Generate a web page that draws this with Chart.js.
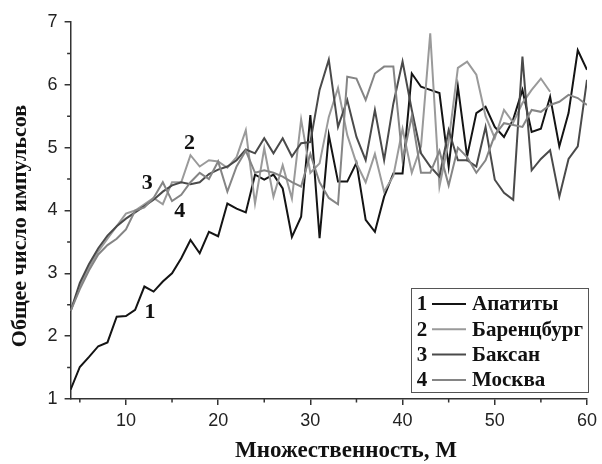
<!DOCTYPE html>
<html>
<head>
<meta charset="utf-8">
<script src="https://cdn.jsdelivr.net/npm/chart.js@4.4.0/dist/chart.umd.min.js"></script>
<style>
  html, body { margin: 0; padding: 0; background: #fff; }
  #wrap { width: 602px; height: 464px; }
</style>
</head>
<body>
<div id="wrap"><canvas id="chart" width="602" height="464"></canvas></div>
<script>
// multiplicity M
const multiplicity = [];
for (let m = 4; m <= 60; m++) multiplicity.push(m);

const stationNames = ['Апатиты', 'Баренцбург', 'Баксан', 'Москва'];
const xTickLabels = [10, 20, 30, 40, 50, 60];
const yTickLabels = [1, 2, 3, 4, 5, 6, 7];

// values, M = 4..60
const apatity = [1.15, 1.51, 1.67, 1.84, 1.90, 2.31, 2.32, 2.42, 2.79, 2.71,
  2.87, 3.00, 3.24, 3.53, 3.32, 3.66, 3.59, 4.11, 4.03, 3.97,
  4.57, 4.49, 4.57, 4.35, 3.58, 3.90, 5.52, 3.56, 5.20, 4.46,
  4.46, 4.76, 3.85, 3.66, 4.22, 4.59, 4.59, 6.18, 5.97, 5.92,
  5.87, 4.70, 5.97, 4.86, 5.55, 5.65, 5.33, 5.17, 5.45, 5.92,
  5.25, 5.30, 5.81, 5.02, 5.55, 6.55, 6.24];

const barentsburg = [2.40, 2.80, 3.10, 3.35, 3.55, 3.75, 3.95, 4.00, 4.10, 4.20,
  4.10, 4.45, 4.45, 4.88, 4.70, 4.80, 4.78, 4.68, 4.85, 5.28,
  4.11, 4.99, 4.22, 4.72, 4.19, 5.45, 4.60, 4.75, 5.49, 5.95,
  5.20, 4.75, 4.45, 4.90, 4.30, 4.55, 5.30, 4.60, 5.02, 6.82,
  4.38, 5.10, 6.27, 6.37, 6.16, 5.50, 5.15, 5.60, 5.40, 5.71,
  5.92, 6.10, 5.89, null, null, null, null];

const baksan = [2.40, 2.85, 3.15, 3.40, 3.60, 3.75, 3.87, 3.97, 4.07, 4.17,
  4.30, 4.40, 4.45, 4.42, 4.45, 4.58, 4.65, 4.70, 4.80, 4.97,
  4.91, 5.15, 4.91, 5.15, 4.86, 5.07, 5.09, 5.92, 6.40, 5.33,
  5.76, 5.17, 4.80, 5.60, 4.80, 5.70, 6.37, 5.60, 4.91, 4.70,
  4.54, 5.28, 4.80, 4.80, 4.70, 5.33, 4.49, 4.28, 4.17, 6.45,
  4.64, 4.82, 4.96, 4.22, 4.82, 5.02, 6.08];

const moscow = [2.40, 2.75, 3.05, 3.30, 3.45, 3.55, 3.70, 4.00, 4.05, 4.20,
  4.45, 4.15, 4.25, 4.45, 4.60, 4.50, 4.78, 4.30, 4.70, 4.95,
  4.60, 4.64, 4.60, 4.54, 4.45, 4.38, 4.90, 4.45, 4.20, 4.10,
  6.13, 6.10, 5.76, 6.18, 6.29, 6.29, 4.80, 5.50, 4.60, 4.60,
  4.95, 4.40, 5.00, 4.85, 4.60, 4.80, 5.20, 5.39, 5.36, 5.33,
  5.60, 5.57, 5.68, 5.73, 5.84, 5.79, 5.68];

const colors = ['#141414', '#9a9a9a', '#4a4a4a', '#858585'];
const seriesList = [apatity, barentsburg, baksan, moscow];

const toPoints = arr => arr.map((v, i) => ({ x: multiplicity[i], y: v }));

const serif = '"Liberation Serif", "Times New Roman", serif';
const sans = '"Liberation Sans", Arial, sans-serif';

const extras = {
  id: 'extras',
  afterDraw(chart) {
    const ctx = chart.ctx;
    const xs = chart.scales.x, ys = chart.scales.y;
    const area = chart.chartArea;
    ctx.save();
    // minor ticks
    ctx.strokeStyle = '#333';
    ctx.lineWidth = 1.5;
    ctx.beginPath();
    for (let m = 5; m < 60; m += 10) {
      const px = xs.getPixelForValue(m);
      ctx.moveTo(px, area.bottom);
      ctx.lineTo(px, area.bottom + 3.5);
    }
    for (let v = 1.5; v < 7; v += 1) {
      const py = ys.getPixelForValue(v);
      ctx.moveTo(area.left, py);
      ctx.lineTo(area.left - 3.5, py);
    }
    ctx.stroke();

    // axis titles
    ctx.fillStyle = '#111';
    ctx.textAlign = 'center';
    ctx.textBaseline = 'middle';
    ctx.font = 'bold 23px ' + serif;
    ctx.fillText('Множественность, M', 346, 451);
    ctx.font = 'bold 22px ' + serif;
    ctx.translate(20, 226);
    ctx.rotate(-Math.PI / 2);
    ctx.fillText('Общее число импульсов', 0, 0);
    ctx.setTransform(1, 0, 0, 1, 0, 0);

    // curve numbers
    const marks = [[12.6, 2.38, '1'], [16.9, 5.07, '2'], [12.3, 4.44, '3'], [15.85, 3.98, '4']];
    ctx.font = 'bold 22px ' + serif;
    marks.forEach(([m, v, t]) => {
      ctx.fillText(t, xs.getPixelForValue(m), ys.getPixelForValue(v));
    });

    // legend box
    const bx = 411, by = 288, bw = 177, bh = 104;
    ctx.fillStyle = '#fff';
    ctx.fillRect(bx, by, bw, bh);
    ctx.strokeStyle = '#555';
    ctx.lineWidth = 1;
    ctx.strokeRect(bx + 0.5, by + 0.5, bw, bh);
    ctx.font = 'bold 21px ' + serif;
    ctx.textBaseline = 'middle';
    stationNames.forEach((name, i) => {
      const y = 304 + i * 25.3;
      ctx.fillStyle = '#111';
      ctx.textAlign = 'center';
      ctx.fillText(String(i + 1), 422, y + 1);
      ctx.strokeStyle = colors[i];
      ctx.lineWidth = 2;
      ctx.beginPath();
      ctx.moveTo(432, y);
      ctx.lineTo(466, y);
      ctx.stroke();
      ctx.textAlign = 'left';
      ctx.fillText(name, 472, y + 1);
    });
    ctx.restore();
  }
};

new Chart(document.getElementById('chart'), {
  type: 'line',
  data: {
    datasets: seriesList.map((s, i) => ({
      label: stationNames[i],
      data: toPoints(s),
      borderColor: colors[i],
      borderWidth: 2,
      pointRadius: 0,
      tension: 0,
      spanGaps: false
    })).reverse()
  },
  options: {
    responsive: false,
    animation: false,
    layout: { padding: { top: 22, right: 14, left: 0, bottom: 0 } },
    plugins: { legend: { display: false }, tooltip: { enabled: false } },
    scales: {
      x: {
        type: 'linear',
        min: 4,
        max: 60,
        afterBuildTicks: s => { s.ticks = xTickLabels.map(v => ({ value: v })); },
        afterFit: s => { s.height = 65; },
        grid: { drawOnChartArea: false, drawTicks: true, tickLength: 6, color: '#333', lineWidth: 1.5 },
        border: { display: true, color: '#333', width: 1.5 },
        ticks: { font: { family: sans, size: 18 }, color: '#222', padding: 5, maxRotation: 0 }
      },
      y: {
        min: 1,
        max: 7,
        afterBuildTicks: s => { s.ticks = yTickLabels.map(v => ({ value: v })); },
        afterFit: s => { s.width = 70.6; },
        grid: { drawOnChartArea: false, drawTicks: true, tickLength: 6, color: '#333', lineWidth: 1.5 },
        border: { display: true, color: '#333', width: 1.5 },
        ticks: { font: { family: sans, size: 18 }, color: '#222', padding: 7 }
      }
    }
  },
  plugins: [extras]
});
</script>
</body>
</html>
